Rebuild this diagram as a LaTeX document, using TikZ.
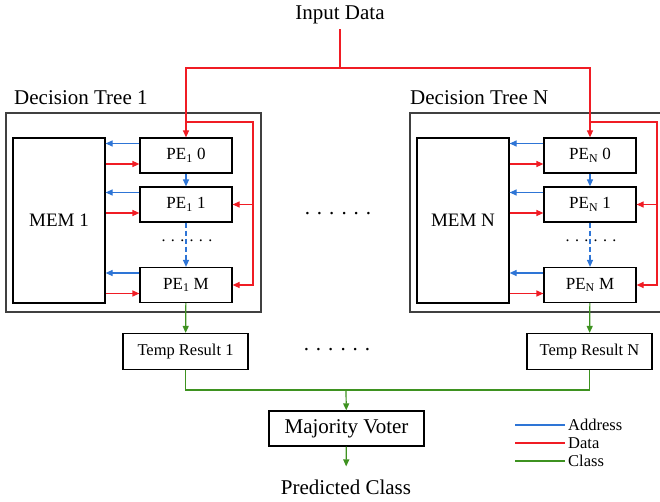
\documentclass[tikz,border=0pt]{standalone}
\usepackage{fontspec}
\setmainfont{Liberation Serif}
\usepackage{xcolor}
\usepackage{tikz}
\usetikzlibrary{arrows.meta}

\definecolor{addrblue}{RGB}{46,117,214}
\definecolor{datared}{RGB}{240,28,36}
\definecolor{classgreen}{RGB}{62,146,32}

\tikzset{
    addr/.style={draw=addrblue,line width=1.2pt},
    data/.style={draw=datared,line width=1.2pt},
    cls/.style={draw=classgreen,line width=1.2pt},
    bigtext/.style={font=\fontsize{21}{25}\selectfont},
    treebox/.style={draw=black!75,line width=1.6pt,minimum width=255pt,minimum height=199pt,inner sep=0pt},
    membox/.style={draw=black,line width=1.2pt,minimum width=92pt,minimum height=165pt,inner sep=0pt,font=\fontsize{19}{22}\selectfont},
    pebox/.style={draw=black,line width=1.2pt,minimum width=92pt,minimum height=35pt,inner sep=0pt,font=\fontsize{17}{20}\selectfont},
    tempbox/.style={draw=black,line width=1.2pt,minimum width=125pt,minimum height=36pt,inner sep=0pt,font=\fontsize{16.5}{19}\selectfont},
    votebox/.style={draw=black,line width=1.2pt,minimum width=155pt,minimum height=35pt,inner sep=0pt,font=\fontsize{21}{25}\selectfont},
    legtext/.style={anchor=west,inner sep=3pt,font=\fontsize{16.5}{19}\selectfont}
}

\begin{document}
\begin{tikzpicture}[x=1pt,y=-1pt,>={Triangle[length=7pt,width=6pt]}]
    \useasboundingbox (0,0) rectangle (660,502);

    % input
    \node[bigtext,inner xsep=2pt,inner ysep=5pt] (input) at (340,15) {Input Data};
    \coordinate (split) at (340,68);
    \draw[data] (input) -- (split);

    % the two trees
    \foreach \k/\dx/\lx in {1/0/14,N/404/6}{
    \begin{scope}[xshift=\dx]
        \node[treebox] (tree\k) at (133.5,212.5) {};
        \node[bigtext,anchor=west,inner sep=0pt] (title\k) at (\lx,98) {Decision Tree \k};
        \node[membox] (mem\k) at (59,220.5) {MEM \k};
        \node[pebox] (pe\k-0) at (186,155.5) {PE\textsubscript{\k} 0};
        \node[pebox] (pe\k-1) at (186,204.5) {PE\textsubscript{\k} 1};
        \node[pebox] (pe\k-m) at (186,285) {PE\textsubscript{\k} M};
        \node[font=\fontsize{16}{19}\selectfont,inner sep=0pt] (vdots\k) at (187,241) {. . . . . .};
        \node[tempbox] (temp\k) at (185.5,351.5) {Temp Result \k};
        \coordinate (fork\k) at (186,122);
        \coordinate (loop\k) at (253,122);
    \end{scope}
    \draw[data,->] (split) -| (pe\k-0);
    \draw[data,->] (fork\k) -- (loop\k) |- (pe\k-m);
    \draw[data,->] (loop\k |- pe\k-1) -- (pe\k-1);
    \foreach \p in {0,1,m}{
        \draw[addr,->] ([yshift=12]pe\k-\p.west) -- ([yshift=12]pe\k-\p.west -| mem\k.east);
        \draw[data,->] ([yshift=-8.5]pe\k-\p.west -| mem\k.east) -- ([yshift=-8.5]pe\k-\p.west);
    }
    \draw[addr,->] (pe\k-0) -- (pe\k-1);
    \draw[addr,dash pattern=on 5pt off 3pt,->] (pe\k-1) -- (pe\k-m);
    \draw[cls,->] (pe\k-m) -- (temp\k);
    }

    \node[bigtext] (hdots) at (338,214) {. . . . . .};
    \node[bigtext] (ldots) at (337,350) {. . . . . .};

    % voting
    \coordinate (bus) at (346,390);
    \node[votebox] (voter) at (346.5,428.5) {Majority Voter};
    \node[bigtext,inner xsep=0pt,inner ysep=13pt] (pred) at (346,487) {Predicted Class};
    \draw[cls] (temp1) |- (bus) -| (tempN);
    \draw[cls,->] (bus) -- (voter);
    \draw[cls,->] (voter) -- (pred);

    % legend
    \node[legtext] (key-addr) at (565,425) {Address};
    \node[legtext] (key-data) at (565,443) {Data};
    \node[legtext] (key-cls) at (565,461) {Class};
    \coordinate (key-addr-s) at (515,425);
    \coordinate (key-data-s) at (515,443);
    \coordinate (key-cls-s) at (515,461);
    \draw[addr] (key-addr-s) -- (key-addr);
    \draw[data] (key-data-s) -- (key-data);
    \draw[cls] (key-cls-s) -- (key-cls);
\end{tikzpicture}
\end{document}
